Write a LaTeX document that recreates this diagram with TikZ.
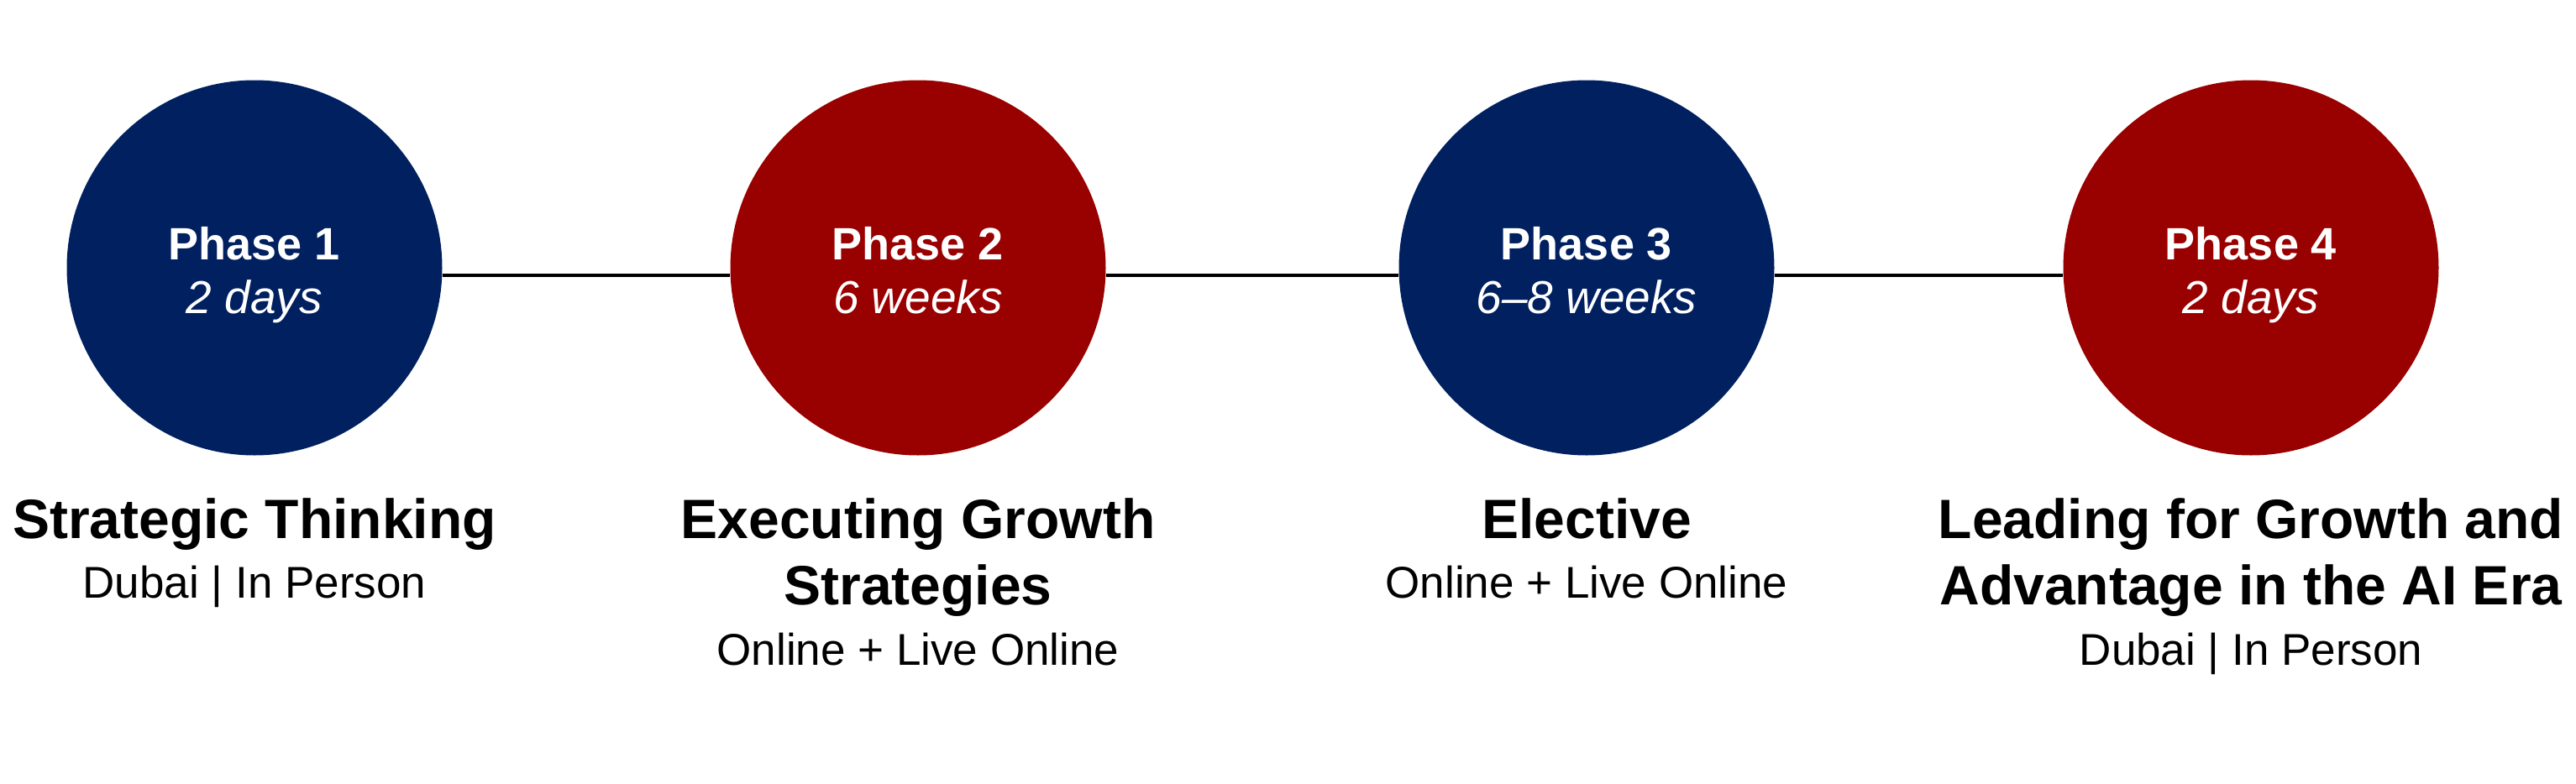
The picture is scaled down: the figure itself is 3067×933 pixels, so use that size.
\documentclass[tikz,border=0pt]{standalone}
\usepackage{fontspec}
\setmainfont{Liberation Sans}
\definecolor{navy}{HTML}{002060}
\definecolor{darkred}{HTML}{990000}
\begin{document}
\begin{tikzpicture}[x=0.25pt,y=-0.25pt,
  phase/.style={circle, minimum size=111.75pt, inner sep=0pt},
  bluephase/.style={phase, fill=navy},
  redphase/.style={phase, fill=darkred},
  phasetitle/.style={anchor=base, text=white, inner sep=0pt, font=\fontsize{13.5pt}{16pt}\selectfont\bfseries},
  phasedur/.style={anchor=base, text=white, inner sep=0pt, font=\fontsize{13.75pt}{16pt}\selectfont\itshape},
  modtitle/.style={anchor=base, inner sep=0pt, font=\fontsize{16.5pt}{20pt}\selectfont\bfseries},
  modsub/.style={anchor=base, inner sep=0pt, font=\fontsize{13.25pt}{16pt}\selectfont},
  link/.style={line width=1pt, black}]
\useasboundingbox (0,0) rectangle (3067,933);

% circles
\node[bluephase] (p1) at (303,319) {};
\node[redphase]  (p2) at (1093,319) {};
\node[bluephase] (p3) at (1889,319) {};
\node[redphase]  (p4) at (2680,319) {};

% connectors
\draw[link] ([yshift=-2.25pt]p1.east) -- ([yshift=-2.25pt]p2.west);
\draw[link] ([yshift=-2.25pt]p2.east) -- ([yshift=-2.25pt]p3.west);
\draw[link] ([yshift=-2.25pt]p3.east) -- ([yshift=-2.25pt]p4.west);

% circle texts
\node[phasetitle] (t1) at (303,309) {Phase 1};
\node[phasedur]   (d1) at (303,373) {2 days};
\node[phasetitle] (t2) at (1093,309) {Phase 2};
\node[phasedur]   (d2) at (1093,373) {6 weeks};
\node[phasetitle] (t3) at (1889,309) {Phase 3};
\node[phasedur]   (d3) at (1889,373) {6–8 weeks};
\node[phasetitle] (t4) at (2680,309) {Phase 4};
\node[phasedur]   (d4) at (2680,373) {2 days};

% module texts
\node[modtitle] (m1a) at (303,641) {Strategic Thinking};
\node[modsub]   (s1)  at (303,712) {Dubai | In Person};

\node[modtitle] (m2a) at (1093,641) {Executing Growth};
\node[modtitle] (m2b) at (1093,720) {Strategies};
\node[modsub]   (s2)  at (1093,792) {Online + Live Online};

\node[modtitle] (m3a) at (1889,641) {Elective};
\node[modsub]   (s3)  at (1889,712) {Online + Live Online};

\node[modtitle] (m4a) at (2680,641) {Leading for Growth and};
\node[modtitle] (m4b) at (2680,720) {Advantage in the AI Era};
\node[modsub]   (s4)  at (2680,792) {Dubai | In Person};
\end{tikzpicture}
\end{document}
